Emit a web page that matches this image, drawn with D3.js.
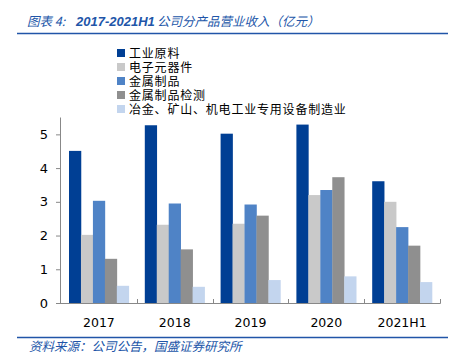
<!DOCTYPE html>
<html><head><meta charset="utf-8">
<script src="https://cdn.jsdelivr.net/npm/d3@7"></script>
<style>body{margin:0;background:#fff;}svg{display:block;}</style>
</head><body>
<script>
const categories = ["2017","2018","2019","2020","2021H1"];
const seriesNames = ["工业原料","电子元器件","金属制品","金属制品检测","冶金、矿山、机电工业专用设备制造业"];
const s1 = [4.51, 5.27, 5.02, 5.29, 3.61];
const s2 = [2.02, 2.32, 2.35, 3.20, 3.00];
const s3 = [3.03, 2.95, 2.92, 3.35, 2.25];
const s4 = [1.31, 1.59, 2.59, 3.73, 1.70];
const s5 = [0.51, 0.48, 0.68, 0.79, 0.62];
const yTicks = [0,1,2,3,4,5];
const colors = ["#003f94","#c9c9c9","#4f83c6","#8f8f8f","#c3d5ee"];
const series = [s1,s2,s3,s4,s5];

const W=453,H=358;
const svg=d3.select("body").append("svg").attr("width",W).attr("height",H);
const blue="#2155a8";
// title
svg.append("text").attr("x",27).attr("y",25.5).attr("fill",blue)
  .attr("font-family","'Noto Sans CJK SC'").attr("font-style","italic").attr("font-size",12.5).text("图表 4:");
svg.append("text").attr("x",76).attr("y",25.5).attr("fill",blue)
  .attr("font-family","'Liberation Sans'").attr("font-style","italic").attr("font-weight","bold").attr("font-size",13).text("2017-2021H1");
svg.append("text").attr("x",157).attr("y",25.5).attr("fill",blue)
  .attr("font-family","'Noto Sans CJK SC'").attr("font-style","italic").attr("font-size",12.5).text("公司分产品营业收入（亿元）");
svg.append("line").attr("x1",17).attr("x2",448).attr("y1",33.5).attr("y2",33.5).attr("stroke",blue).attr("stroke-width",1.5);
svg.append("line").attr("x1",17).attr("x2",448).attr("y1",337.5).attr("y2",337.5).attr("stroke",blue).attr("stroke-width",1.5);
svg.append("text").attr("x",29).attr("y",351).attr("fill",blue)
  .attr("font-family","'Noto Sans CJK SC'").attr("font-style","italic").attr("font-size",12.5).text("资料来源：公司公告，国盛证券研究所");

const x0=d3.scaleBand().domain(categories).range([61,440]).paddingInner(0).paddingOuter(0);
const y=d3.scaleLinear().domain([0,5.5]).range([303,117.5]);
const x1=d3.scaleBand().domain(d3.range(5)).range([8,x0.bandwidth()-8]).padding(0);

// bars
const g=svg.append("g");
categories.forEach((c,i)=>{
  series.forEach((s,j)=>{
    g.append("rect").attr("x",x0(c)+x1(j)).attr("width",x1.bandwidth()+0.3)
      .attr("y",y(s[i])).attr("height",y(0)-y(s[i])).attr("fill",colors[j]);
  });
});

// y axis
const ya=svg.append("g").attr("transform","translate(61,0)")
  .call(d3.axisLeft(y).tickValues(yTicks).tickSize(5).tickPadding(8).tickFormat(d3.format("d")));
ya.select(".domain").attr("stroke","#888").attr("d","M-0.5,117.5V303.5");
ya.selectAll(".tick line").attr("stroke","#888");
ya.selectAll("text").attr("font-family","'DejaVu Sans'").attr("font-size",13).attr("fill","#000");

// x axis
svg.append("line").attr("x1",61).attr("x2",440.5).attr("y1",303.5).attr("y2",303.5).attr("stroke","#888");
const bounds=categories.map(c=>x0(c)+x0.bandwidth());
svg.selectAll(".xt").data(bounds).enter().append("line")
  .attr("x1",d=>Math.round(d)+0.5).attr("x2",d=>Math.round(d)+0.5).attr("y1",299).attr("y2",303.5).attr("stroke","#888");
svg.selectAll(".xl").data(categories).enter().append("text")
  .attr("x",d=>x0(d)+x0.bandwidth()/2).attr("y",327).attr("text-anchor","middle")
  .attr("font-family","'DejaVu Sans'").attr("font-size",12.5).attr("fill","#000").text(d=>d);

// legend
const lg=svg.append("g");
seriesNames.forEach((n,i)=>{
  const yy=53+i*14;
  lg.append("rect").attr("x",117).attr("y",yy-4).attr("width",8).attr("height",8).attr("fill",colors[i]);
  lg.append("text").attr("x",129).attr("y",yy+4.5).attr("font-family","'Liberation Sans','Noto Sans CJK SC'").attr("font-size",12)
    .attr("letter-spacing",0.8).attr("fill","#000").text(n);
});
</script>
</body></html>
